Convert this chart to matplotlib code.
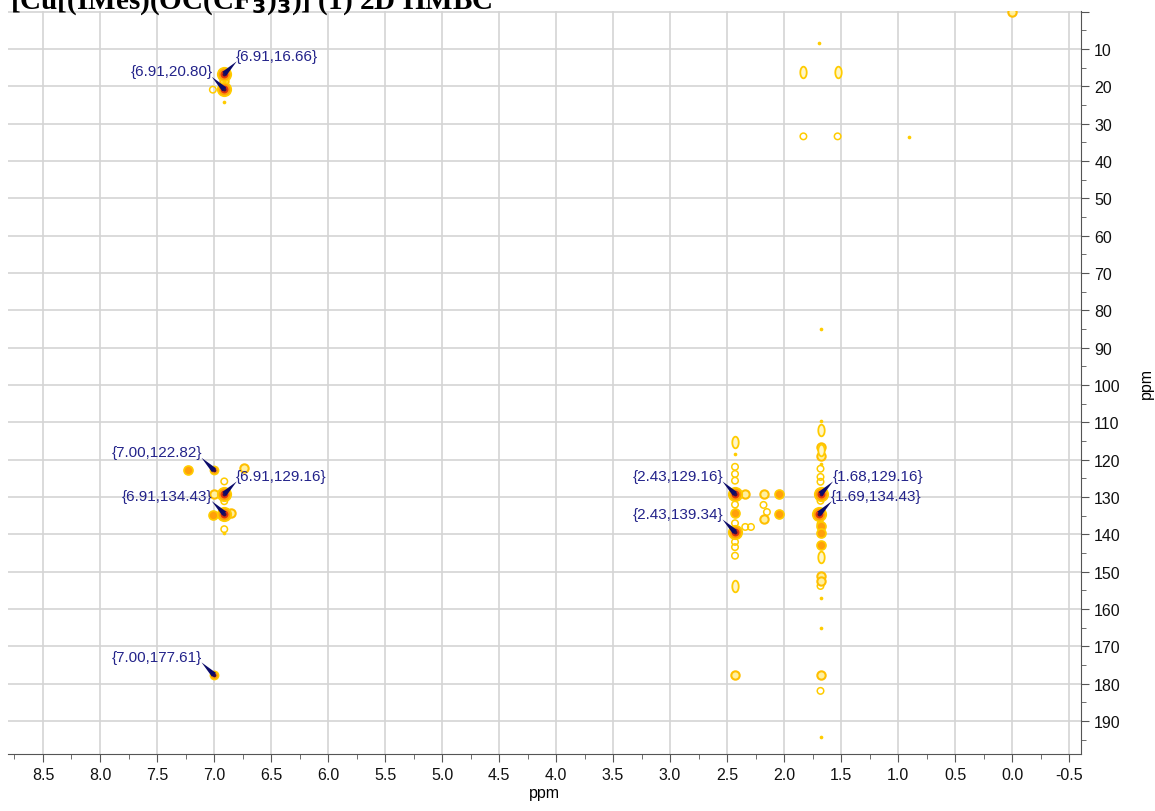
import matplotlib
matplotlib.use("Agg")

import numpy as np
import matplotlib.pyplot as plt
from matplotlib.path import Path
from matplotlib.ticker import MultipleLocator
import matplotlib.transforms as mtransforms

OUT_FILE = "out.png"

# labelled cross peaks (1H ppm, 13C ppm)
lab_h = [6.91, 6.91, 7.00, 6.91, 6.91, 7.00, 2.43, 2.43, 1.68, 1.69]
lab_c = [16.66, 20.80, 122.82, 129.16, 134.43, 177.61, 129.16, 139.34, 129.16, 134.43]
lab_text = ["{6.91,16.66}", "{6.91,20.80}", "{7.00,122.82}", "{6.91,129.16}",
            "{6.91,134.43}", "{7.00,177.61}", "{2.43,129.16}", "{2.43,139.34}",
            "{1.68,129.16}", "{1.69,134.43}"]
lab_side = ["r", "l", "l", "r", "l", "l", "l", "l", "r", "r"]
lab_wide = [0, 0, 0, 1, 1, 0, 1, 1, 2, 3]     # horizontal spread of contour
lab_strong = [1, 1, 0, 1, 1, 0, 1, 1, 1, 1]

# weaker cross peaks: level 0 dot, 1 thin ring, 2 ring, 3 filled
weak_h = [6.91, 7.01, 6.91, 7.23, 6.74, 6.91, 7.00, 6.91, 7.01, 6.85, 6.91, 6.91,
          2.43, 2.43, 2.43, 2.43, 2.34, 2.18, 2.04, 2.43, 2.43, 2.18, 2.15, 2.04,
          2.18, 2.43, 2.34, 2.29, 2.43, 2.43, 2.43, 2.43,
          1.69, 1.83, 1.53, 0.90, 0.00, 1.68,
          1.68, 1.68, 1.68, 1.68, 1.68, 1.68, 1.68, 1.68, 1.68, 1.68, 1.68,
          1.68, 1.68, 1.68, 1.68, 1.68, 1.68, 1.68, 1.68, 1.68]
weak_c = [18.7, 20.9, 24.2, 122.8, 122.3, 125.8, 129.2, 131.1, 134.9, 134.3, 138.6, 139.6,
          118.4, 121.9, 123.8, 125.6, 129.16, 129.16, 129.16, 132.0, 134.2, 132.1, 134.0, 134.5,
          135.8, 137.0, 138.0, 138.0, 142.0, 143.4, 145.7, 177.6,
          8.4, 33.4, 33.4, 33.7, 0.0, 85.0,
          109.5, 121.1, 122.4, 124.6, 125.9, 131.0, 137.2, 137.7, 139.6, 142.8, 151.1,
          152.4, 153.8, 157.0, 165.0, 177.6, 181.9, 194.2, 116.6, 118.9]
weak_lvl = [2, 1, 0, 3, 2, 1, 2, 1, 3, 2, 1, 0,
            0, 1, 1, 1, 2, 2, 3, 1, 3, 1, 1, 3,
            2, 1, 1, 1, 1, 1, 1, 2,
            0, 1, 1, 0, 2, 0,
            0, 0, 1, 1, 1, 1, 1, 3, 3, 3, 2,
            2, 1, 0, 0, 2, 1, 0, 2, 2]

# elongated (tall) weak contours
tall_h = [2.43, 2.43, 1.83, 1.53, 1.68, 1.68, 1.68]
tall_c = [115.2, 153.8, 16.2, 16.2, 112.0, 117.4, 146.0]

NAVY = "#0b0b6b"
TXT = "#23238a"
GOLD = "#ffcc00"
ORANGE = "#ff9f0a"
RED = "#e2360c"
DARK = "#3a0d45"

t = np.linspace(0, 2 * np.pi, 40)
def ellipse_marker(sx, sy):
    return Path(np.column_stack([sx * np.cos(t), sy * np.sin(t)]), closed=True)

wide_markers = [None, ellipse_marker(1.6, 1), ellipse_marker(2.6, 1), ellipse_marker(4.0, 1)]
tall_marker = ellipse_marker(0.55, 1)

fig = plt.figure(figsize=(11.55, 8.12), dpi=100)
ax = fig.add_axes([8 / 1155, 1 - 755 / 812, (1081 - 8) / 1155, (755 - 12) / 812])
ax.set_xlim(8.807, -0.605)
ax.set_ylim(198.8, -0.17)

ax.xaxis.set_major_locator(MultipleLocator(0.5))
ax.xaxis.set_minor_locator(MultipleLocator(0.25))
ax.yaxis.set_major_locator(MultipleLocator(10))
ax.yaxis.set_minor_locator(MultipleLocator(5))
ax.yaxis.tick_right()
ax.yaxis.set_label_position("right")
ax.grid(True, which="major", color="#d4d4d4", lw=1.2)
ax.set_axisbelow(True)
for s in ["left", "top"]:
    ax.spines[s].set_visible(False)
for s in ["right", "bottom"]:
    ax.spines[s].set_color("#555555")
ax.tick_params(which="major", direction="out", length=6, color="#555555",
               labelsize=11.5, labelcolor="#111111")
ax.tick_params(which="minor", direction="out", length=3.5, color="#555555")
for lab in ax.get_xticklabels() + ax.get_yticklabels():
    lab.set_family("Liberation Sans")
ax.xaxis.set_major_formatter(plt.FuncFormatter(lambda v, p: f"{v:.1f}"))
ax.yaxis.set_major_formatter(plt.FuncFormatter(lambda v, p: f"{v:.0f}" if v > 0 else ""))
ax.set_xlabel("ppm", family="Liberation Sans", fontsize=11.5, labelpad=2)
ax.set_ylabel("ppm", family="Liberation Sans", fontsize=11.5, labelpad=13)

# weak contours
wh = np.array(weak_h); wc = np.array(weak_c); wl = np.array(weak_lvl)
m = wl == 0
ax.scatter(wh[m], wc[m], s=7, color=GOLD, lw=0, zorder=3)
m = wl == 1
ax.scatter(wh[m], wc[m], s=22, facecolors="none", edgecolors=GOLD, lw=1.1, zorder=3)
m = wl == 2
ax.scatter(wh[m], wc[m], s=36, facecolors="#fff0a0", edgecolors="#ffbf00", lw=1.5, zorder=3)
m = wl == 3
ax.scatter(wh[m], wc[m], s=42, facecolors=ORANGE, edgecolors=GOLD, lw=1.2, zorder=3)
ax.scatter(tall_h, tall_c, s=70, marker=tall_marker, facecolors="#fff6c8",
           edgecolors=GOLD, lw=1.3, zorder=3)

# labelled contours and labels
for h, c, txt, side, wd, st in zip(lab_h, lab_c, lab_text, lab_side, lab_wide, lab_strong):
    if wd:
        ax.scatter([h], [c], s=80, marker=wide_markers[wd], facecolors="#ffe88a",
                   edgecolors=GOLD, lw=1.0, zorder=4)
    if st:
        ax.scatter([h], [c], s=120, color=GOLD, lw=0, zorder=4)
        ax.scatter([h], [c], s=70, color=ORANGE, lw=0, zorder=4)
        ax.scatter([h], [c], s=32, color=RED, lw=0, zorder=4)
        ax.scatter([h], [c], s=8, color=DARK, lw=0, zorder=4)
    else:
        ax.scatter([h], [c], s=50, color=GOLD, lw=0, zorder=4)
        ax.scatter([h], [c], s=24, color=ORANGE, lw=0, zorder=4)
        ax.scatter([h], [c], s=7, color=DARK, lw=0, zorder=4)

    sgn = 1 if side == "r" else -1
    tip = mtransforms.offset_copy(ax.transData, fig=fig, x=sgn * 9, y=9, units="points")
    ax.annotate("", xy=(h, c), xycoords=tip, xytext=(h, c), textcoords="data",
                arrowprops=dict(arrowstyle="wedge,tail_width=0.4,shrink_factor=0.5",
                                color=NAVY, lw=0, shrinkA=0, shrinkB=0), zorder=5)
    ax.annotate(txt, xy=(h, c), xytext=(sgn * 8.5, 13), textcoords="offset points",
                ha="left" if side == "r" else "right", va="center",
                fontsize=11, color=TXT, family="Liberation Sans", zorder=6)

fig.text(10 / 1155, 1 - 9 / 812, r"[Cu[(IMes)(OC(CF$_\mathbf{3}$)$_\mathbf{3}$)] (1) 2D HMBC",
         fontsize=21, fontweight="bold", family="Liberation Serif",
         ha="left", va="baseline")

fig.savefig(OUT_FILE, dpi=100)
plt.close(fig)
print(f"Saved: {OUT_FILE}")
